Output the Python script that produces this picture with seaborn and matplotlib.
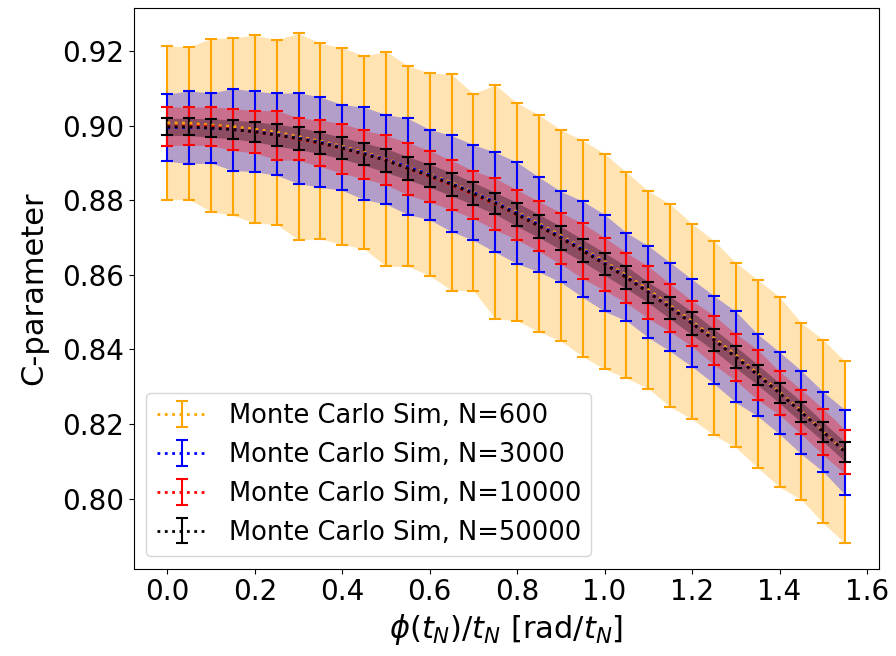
import numpy as np
import matplotlib
matplotlib.use("Agg")
import matplotlib.pyplot as plt
from matplotlib.ticker import MultipleLocator
import seaborn as sns

# phi(t_N)/t_N grid
phi = np.arange(32) * 0.05

# Monte Carlo Sim, N=600
mean_600 = [0.9008, 0.9007, 0.9002, 0.8998, 0.8991, 0.8983, 0.8971, 0.8959, 0.8945, 0.8929,
            0.8911, 0.8892, 0.8870, 0.8848, 0.8822, 0.8796, 0.8769, 0.8738, 0.8706, 0.8671,
            0.8636, 0.8599, 0.8560, 0.8518, 0.8475, 0.8431, 0.8385, 0.8335, 0.8286, 0.8234,
            0.8180, 0.8124]
err_600 = [0.0206, 0.0205, 0.0232, 0.0238, 0.0252, 0.0248, 0.0277, 0.0262, 0.0264, 0.0259,
           0.0288, 0.0269, 0.0272, 0.0290, 0.0264, 0.0314, 0.0292, 0.0291, 0.0283, 0.0290,
           0.0289, 0.0276, 0.0265, 0.0272, 0.0262, 0.0261, 0.0248, 0.0252, 0.0255, 0.0237,
           0.0246, 0.0244]

# Monte Carlo Sim, N=3000
mean_3000 = [0.8995, 0.8996, 0.8994, 0.8990, 0.8985, 0.8977, 0.8967, 0.8956, 0.8942, 0.8926,
             0.8910, 0.8891, 0.8869, 0.8845, 0.8821, 0.8795, 0.8766, 0.8735, 0.8702, 0.8669,
             0.8632, 0.8595, 0.8555, 0.8514, 0.8471, 0.8426, 0.8380, 0.8331, 0.8283, 0.8231,
             0.8179, 0.8124]
err_3000 = [0.0090, 0.0098, 0.0094, 0.0110, 0.0108, 0.0110, 0.0122, 0.0121, 0.0115, 0.0124,
            0.0120, 0.0129, 0.0121, 0.0129, 0.0128, 0.0134, 0.0136, 0.0127, 0.0122, 0.0129,
            0.0130, 0.0118, 0.0123, 0.0119, 0.0117, 0.0118, 0.0122, 0.0110, 0.0110, 0.0112,
            0.0107, 0.0114]

# Monte Carlo Sim, N=10000
mean_10000 = [0.8999, 0.8999, 0.8999, 0.8990, 0.8984, 0.8975, 0.8964, 0.8953, 0.8939, 0.8923,
              0.8908, 0.8885, 0.8864, 0.8841, 0.8815, 0.8790, 0.8761, 0.8730, 0.8698, 0.8664,
              0.8629, 0.8592, 0.8553, 0.8512, 0.8469, 0.8425, 0.8379, 0.8332, 0.8283, 0.8232,
              0.8179, 0.8125]
err_10000 = [0.0052, 0.0051, 0.0052, 0.0056, 0.0057, 0.0066, 0.0057, 0.0062, 0.0067, 0.0065,
             0.0066, 0.0070, 0.0069, 0.0066, 0.0064, 0.0069, 0.0067, 0.0067, 0.0069, 0.0074,
             0.0071, 0.0067, 0.0070, 0.0064, 0.0061, 0.0066, 0.0063, 0.0067, 0.0058, 0.0060,
             0.0062, 0.0059]

# Monte Carlo Sim, N=50000
mean_50000 = [0.8997, 0.8997, 0.8994, 0.8990, 0.8984, 0.8975, 0.8966, 0.8954, 0.8940, 0.8924,
              0.8907, 0.8886, 0.8866, 0.8843, 0.8818, 0.8792, 0.8762, 0.8731, 0.8699, 0.8665,
              0.8629, 0.8593, 0.8553, 0.8512, 0.8470, 0.8426, 0.8379, 0.8332, 0.8283, 0.8232,
              0.8179, 0.8125]
err_50000 = [0.0023, 0.0023, 0.0025, 0.0025, 0.0027, 0.0029, 0.0030, 0.0029, 0.0029, 0.0030,
             0.0032, 0.0031, 0.0031, 0.0031, 0.0030, 0.0029, 0.0032, 0.0031, 0.0031, 0.0030,
             0.0030, 0.0030, 0.0028, 0.0030, 0.0031, 0.0029, 0.0029, 0.0027, 0.0027, 0.0028,
             0.0026, 0.0026]

sizes = ["600", "3000", "10000", "50000"]
colors = ["orange", "blue", "red", "black"]
means = [mean_600, mean_3000, mean_10000, mean_50000]
errs = [err_600, err_3000, err_10000, err_50000]

sns.set_style("ticks", {"axes.edgecolor": "black", "xtick.color": "black", "ytick.color": "black",
                        "axes.labelcolor": "black", "text.color": "black",
                        "xtick.direction": "out", "ytick.direction": "out"})
plt.rcParams['font.family'] = ['DejaVu Sans']

fig, ax = plt.subplots(figsize=(8.96, 6.56), dpi=100)

for n, c, m, e in zip(sizes, colors, means, errs):
    m = np.array(m)
    e = np.array(e)
    ax.fill_between(phi, m - e, m + e, color=c, alpha=0.3, linewidth=0)
    ax.errorbar(phi, m, yerr=e, fmt=':', color=c, ecolor=c, elinewidth=1.5, capsize=4.3,
                capthick=1.5, linewidth=2, label=f"Monte Carlo Sim, N={n}")

ax.xaxis.set_major_locator(MultipleLocator(0.2))
ax.yaxis.set_major_locator(MultipleLocator(0.02))
ax.set_xlabel(r"$\phi(t_N)/t_N$ [rad/$t_N$]", fontsize=22)
ax.set_ylabel("C-parameter", fontsize=22, labelpad=10)
ax.tick_params(labelsize=20)
ax.legend(loc="lower left", fontsize=18.5)

plt.subplots_adjust(left=0.149, right=0.981, bottom=0.133, top=0.988)
plt.savefig("out.png", dpi=100)
